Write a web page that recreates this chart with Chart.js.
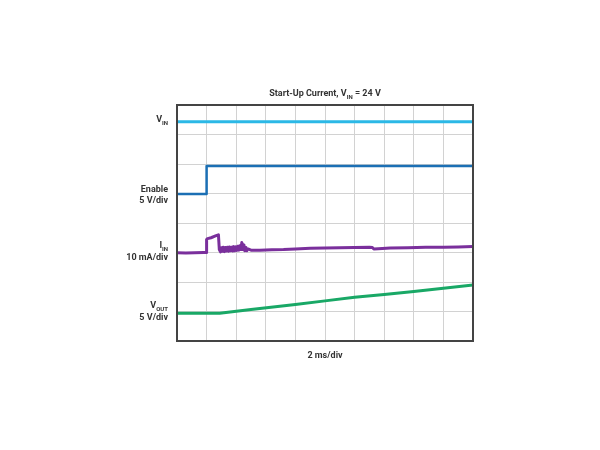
<!DOCTYPE html>
<html>
<head>
<meta charset="utf-8">
<script src="https://cdn.jsdelivr.net/npm/chart.js@4.4.1/dist/chart.umd.min.js"></script>
<style>
  html, body { margin: 0; padding: 0; background: #fff; }
  #wrap { width: 600px; height: 450px; position: relative; }
</style>
</head>
<body>
<div id="wrap"><canvas id="scope"></canvas></div>
<script>
// time axis in divisions (2 ms/div), amplitude in divisions from the bottom of the screen
const xDivs = 10;
const yDivs = 8;

const vinX = [0, 10];
const vinY = [7.43, 7.43];

const enableX = [0, 1.0, 1.0, 10];
const enableY = [4.98, 4.98, 5.93, 5.93];

// input current (noisy stretch after the inrush pulse)
const iinX = [0, 0.3, 0.6, 0.9, 0.98, 1.0, 1.03, 1.15, 1.3, 1.4, 1.43,
  1.47, 1.5, 1.53, 1.56, 1.6, 1.63, 1.67, 1.7, 1.74, 1.77, 1.81, 1.84, 1.88, 1.91, 1.95, 1.98,
  2.02, 2.05, 2.09, 2.12, 2.16, 2.19, 2.22, 2.26, 2.29, 2.33, 2.36, 2.4,
  2.5, 2.8, 3.2, 3.6, 4.0, 4.5, 5.0, 5.5, 6.0, 6.5, 6.6, 6.65, 6.8, 7.2, 7.8, 8.4, 9.0, 9.5, 10];
const iinY = [2.99, 2.98, 2.99, 3.0, 3.0, 3.44, 3.47, 3.5, 3.56, 3.6, 3.1,
  3.02, 3.16, 3.04, 3.18, 3.03, 3.17, 3.05, 3.18, 3.04, 3.19, 3.06, 3.18, 3.05, 3.2, 3.06, 3.19,
  3.07, 3.21, 3.08, 3.23, 3.1, 3.34, 3.1, 3.26, 3.06, 3.17, 3.06, 3.12,
  3.08, 3.08, 3.09, 3.1, 3.12, 3.14, 3.15, 3.16, 3.17, 3.18, 3.17, 3.12, 3.13, 3.15, 3.16, 3.18, 3.18, 3.19, 3.2];

const voutX = [0, 1.44, 2.5, 4.0, 5.0, 6.0, 7.0, 8.0, 9.0, 10];
const voutY = [0.94, 0.94, 1.07, 1.24, 1.36, 1.48, 1.58, 1.68, 1.79, 1.9];

const traceColors = ['#2bb8e6', '#1b6fb4', '#7a2f9c', '#19a866'];

function pts(xs, ys) {
  return xs.map((x, i) => ({ x: x, y: ys[i] }));
}

const FONT = 'Roboto, "Liberation Sans", sans-serif';

// text with a subscript, right-aligned or centred at x
function subText(ctx, parts, x, y, align) {
  const big = 'bold 9px ' + FONT;
  const small = 'bold 6px ' + FONT;
  let w = 0;
  parts.forEach((p) => {
    ctx.font = p.sub ? small : big;
    w += ctx.measureText(p.t).width;
  });
  let cx = align === 'right' ? x - w : (align === 'center' ? x - w / 2 : x);
  ctx.textAlign = 'left';
  parts.forEach((p) => {
    ctx.font = p.sub ? small : big;
    ctx.fillText(p.t, cx, p.sub ? y + 3 : y);
    cx += ctx.measureText(p.t).width;
  });
}

const scopeLabels = {
  id: 'scopeLabels',
  afterDraw(chart) {
    const ctx = chart.ctx;
    const a = chart.chartArea;
    ctx.save();
    // frame
    ctx.strokeStyle = '#444';
    ctx.lineWidth = 2;
    ctx.strokeRect(a.left, a.top, a.right - a.left, a.bottom - a.top);

    ctx.fillStyle = '#333';
    ctx.textBaseline = 'middle';
    const mid = (a.left + a.right) / 2;
    subText(ctx, [{ t: 'Start-Up Current, V' }, { t: 'IN', sub: true }, { t: ' = 24 V' }], mid, 94, 'center');
    subText(ctx, [{ t: '2 ms/div' }], mid, 356, 'center');

    const rx = 168;
    subText(ctx, [{ t: 'V' }, { t: 'IN', sub: true }], rx, 120, 'right');
    subText(ctx, [{ t: 'Enable' }], rx, 190, 'right');
    subText(ctx, [{ t: '5 V/div' }], rx, 201, 'right');
    subText(ctx, [{ t: 'I' }, { t: 'IN', sub: true }], rx, 246, 'right');
    subText(ctx, [{ t: '10 mA/div' }], rx, 258, 'right');
    subText(ctx, [{ t: 'V' }, { t: 'OUT', sub: true }], rx, 306, 'right');
    subText(ctx, [{ t: '5 V/div' }], rx, 318, 'right');
    ctx.restore();
  }
};

function chartInit() {
  const ctx = document.getElementById('scope').getContext('2d');
  const data = {
    datasets: [
      { label: 'VIN', data: pts(vinX, vinY), borderColor: traceColors[0], borderWidth: 3 },
      { label: 'Enable', data: pts(enableX, enableY), borderColor: traceColors[1], borderWidth: 2.5 },
      { label: 'IIN', data: pts(iinX, iinY), borderColor: traceColors[2], borderWidth: 3 },
      { label: 'VOUT', data: pts(voutX, voutY), borderColor: traceColors[3], borderWidth: 3 },
    ]
  };
  data.datasets.forEach((d) => {
    d.pointRadius = 0;
    d.tension = 0;
    d.fill = false;
    d.borderJoinStyle = 'round';
  });

  const options = {
    responsive: true,
    maintainAspectRatio: false,
    animation: false,
    layout: {
      padding: { left: 177, right: 127, top: 105, bottom: 109 }
    },
    scales: {
      x: {
        type: 'linear',
        min: 0,
        max: xDivs,
        ticks: { display: false, stepSize: 1 },
        grid: { color: '#d2d2d2', lineWidth: 1, drawTicks: false },
        border: { display: false },
      },
      y: {
        type: 'linear',
        min: 0,
        max: yDivs,
        ticks: { display: false, stepSize: 1 },
        grid: { color: '#d2d2d2', lineWidth: 1, drawTicks: false },
        border: { display: false },
      },
    },
    plugins: {
      legend: { display: false },
      tooltip: { enabled: false },
    },
  };

  new Chart(ctx, {
    type: 'line',
    data: data,
    options: options,
    plugins: [scopeLabels],
  });
}

chartInit();
</script>
</body>
</html>
